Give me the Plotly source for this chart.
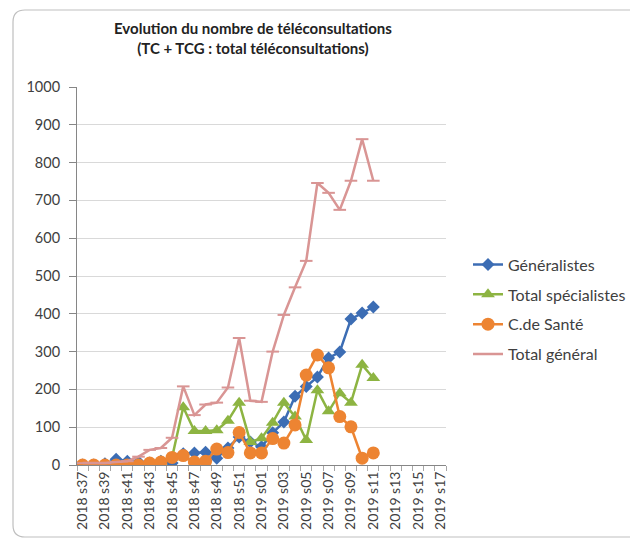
import plotly.graph_objects as go

weeks = [f"2018 s{w}" for w in range(37, 53)] + [f"2019 s{w:02d}" for w in range(1, 18)]

generalistes = [0, 0, 3, 15, 10, 8, 5, 10, 5, 30, 32, 34, 18, 45, 74, 61, 48, 85, 114, 182,
                208, 233, 283, 299, 386, 402, 418]
specialistes = [0, 0, 0, 0, 0, 2, 5, 10, 20, 153, 90, 90, 92, 117, 165, 61, 71, 112, 165, 128,
                66, 198, 142, 190, 165, 265, 230]
cdesante = [0, 0, 0, 0, 0, 0, 5, 8, 20, 25, 8, 10, 42, 33, 86, 32, 32, 70, 58, 106,
            238, 291, 257, 128, 101, 18, 32]
total_general = [5, 5, 5, 8, 10, 22, 40, 45, 72, 208, 132, 160, 165, 205, 336, 170, 167, 300, 397, 470,
                 540, 746, 720, 675, 752, 862, 752]

y_ticks = list(range(0, 1001, 100))
tick_labels = [w if i % 2 == 0 else "" for i, w in enumerate(weeks)]

n = len(generalistes)
x = weeks[:n]

fig = go.Figure()
fig.add_trace(go.Scatter(x=x, y=generalistes, name="Généralistes", mode="lines+markers",
                         line=dict(color="#3C6DB4", width=2.5),
                         marker=dict(symbol="diamond", size=10, color="#3C6DB4"),
                         legendgroup="a"))
fig.add_trace(go.Scatter(x=x, y=specialistes, name="Total spécialistes", mode="lines+markers",
                         line=dict(color="#8DB442", width=2.5),
                         marker=dict(symbol="triangle-up", size=12, color="#8DB442"),
                         legendgroup="b"))
fig.add_trace(go.Scatter(x=x, y=cdesante, name="C.de Santé", mode="lines+markers",
                         line=dict(color="#ED8432", width=2.5),
                         marker=dict(symbol="circle", size=13, color="#ED8432"),
                         legendgroup="c"))
fig.add_trace(go.Scatter(x=x, y=total_general, name="Total général", mode="lines+markers",
                         line=dict(color="#D99594", width=2.5),
                         marker=dict(symbol="line-ew", size=9, color="#D99594",
                                     line=dict(color="#D99594", width=2)),
                         legendgroup="d"))

font = "Lato, 'Liberation Sans', sans-serif"

# target plot area (page pixels): x 77..446, y 87..465
PL, PR, PT, PB = 77, 446, 87, 465
PW, PH = PR - PL, PB - PT
# page body has an 8px margin, so the figure is laid out 8px up/left of the target pixels
OFF = 8
fig.update_layout(
    width=638, height=540,
    margin=dict(l=PL - OFF, r=638 - (PR - OFF), t=PT - OFF, b=540 - (PB - OFF)),
    paper_bgcolor="white", plot_bgcolor="white",
    font=dict(family=font, size=13, color="#404040"),
    showlegend=True,
    legend=dict(x=(468 - PL) / PW, y=0.575, xanchor="left", yanchor="top",
                font=dict(size=16, color="#404040", family=font),
                tracegroupgap=6, bgcolor="rgba(0,0,0,0)"),
    xaxis=dict(type="category", categoryorder="array", categoryarray=weeks,
               range=[-0.5, len(weeks) - 0.5],
               tickmode="array", tickvals=weeks, ticktext=tick_labels,
               tickson="boundaries",
               tickangle=-90, ticks="outside", ticklen=5, tickcolor="#A6A6A6",
               showline=True, linecolor="#868686", linewidth=1,
               showgrid=False, tickfont=dict(size=14, color="#404040")),
    yaxis=dict(range=[0, 1000], tickvals=y_ticks, ticks="outside", ticklen=7,
               tickcolor="#868686", ticklabelstandoff=6,
               showline=True, linecolor="#868686", linewidth=1,
               showgrid=True, gridcolor="#D9D9D9", gridwidth=1,
               zeroline=False, tickfont=dict(size=14.5, color="#404040")),
)

fig.add_annotation(text="<b>Evolution du nombre de téléconsultations<br>(TC + TCG : total téléconsultations)</b>",
                   xref="paper", yref="paper", x=(253 - PL) / PW, y=(PB - 38) / PH,
                   xanchor="center", yanchor="middle", showarrow=False,
                   font=dict(size=15, color="#222222", family=font))

# chart area border with rounded corners
lx, ty, by, rx = (13 - PL) / PW, (PB - 10) / PH, (PB - 537) / PH, (660 - PL) / PW
dx, dy = 12 / PW, 12 / PH
path = (f"M {rx},{ty} L {lx+dx},{ty} Q {lx},{ty} {lx},{ty-dy} "
        f"L {lx},{by+dy} Q {lx},{by} {lx+dx},{by} L {rx},{by}")
fig.add_shape(type="path", path=path, xref="paper", yref="paper",
              line=dict(color="#BFBFBF", width=1.2))

fig.write_html("out.html")
